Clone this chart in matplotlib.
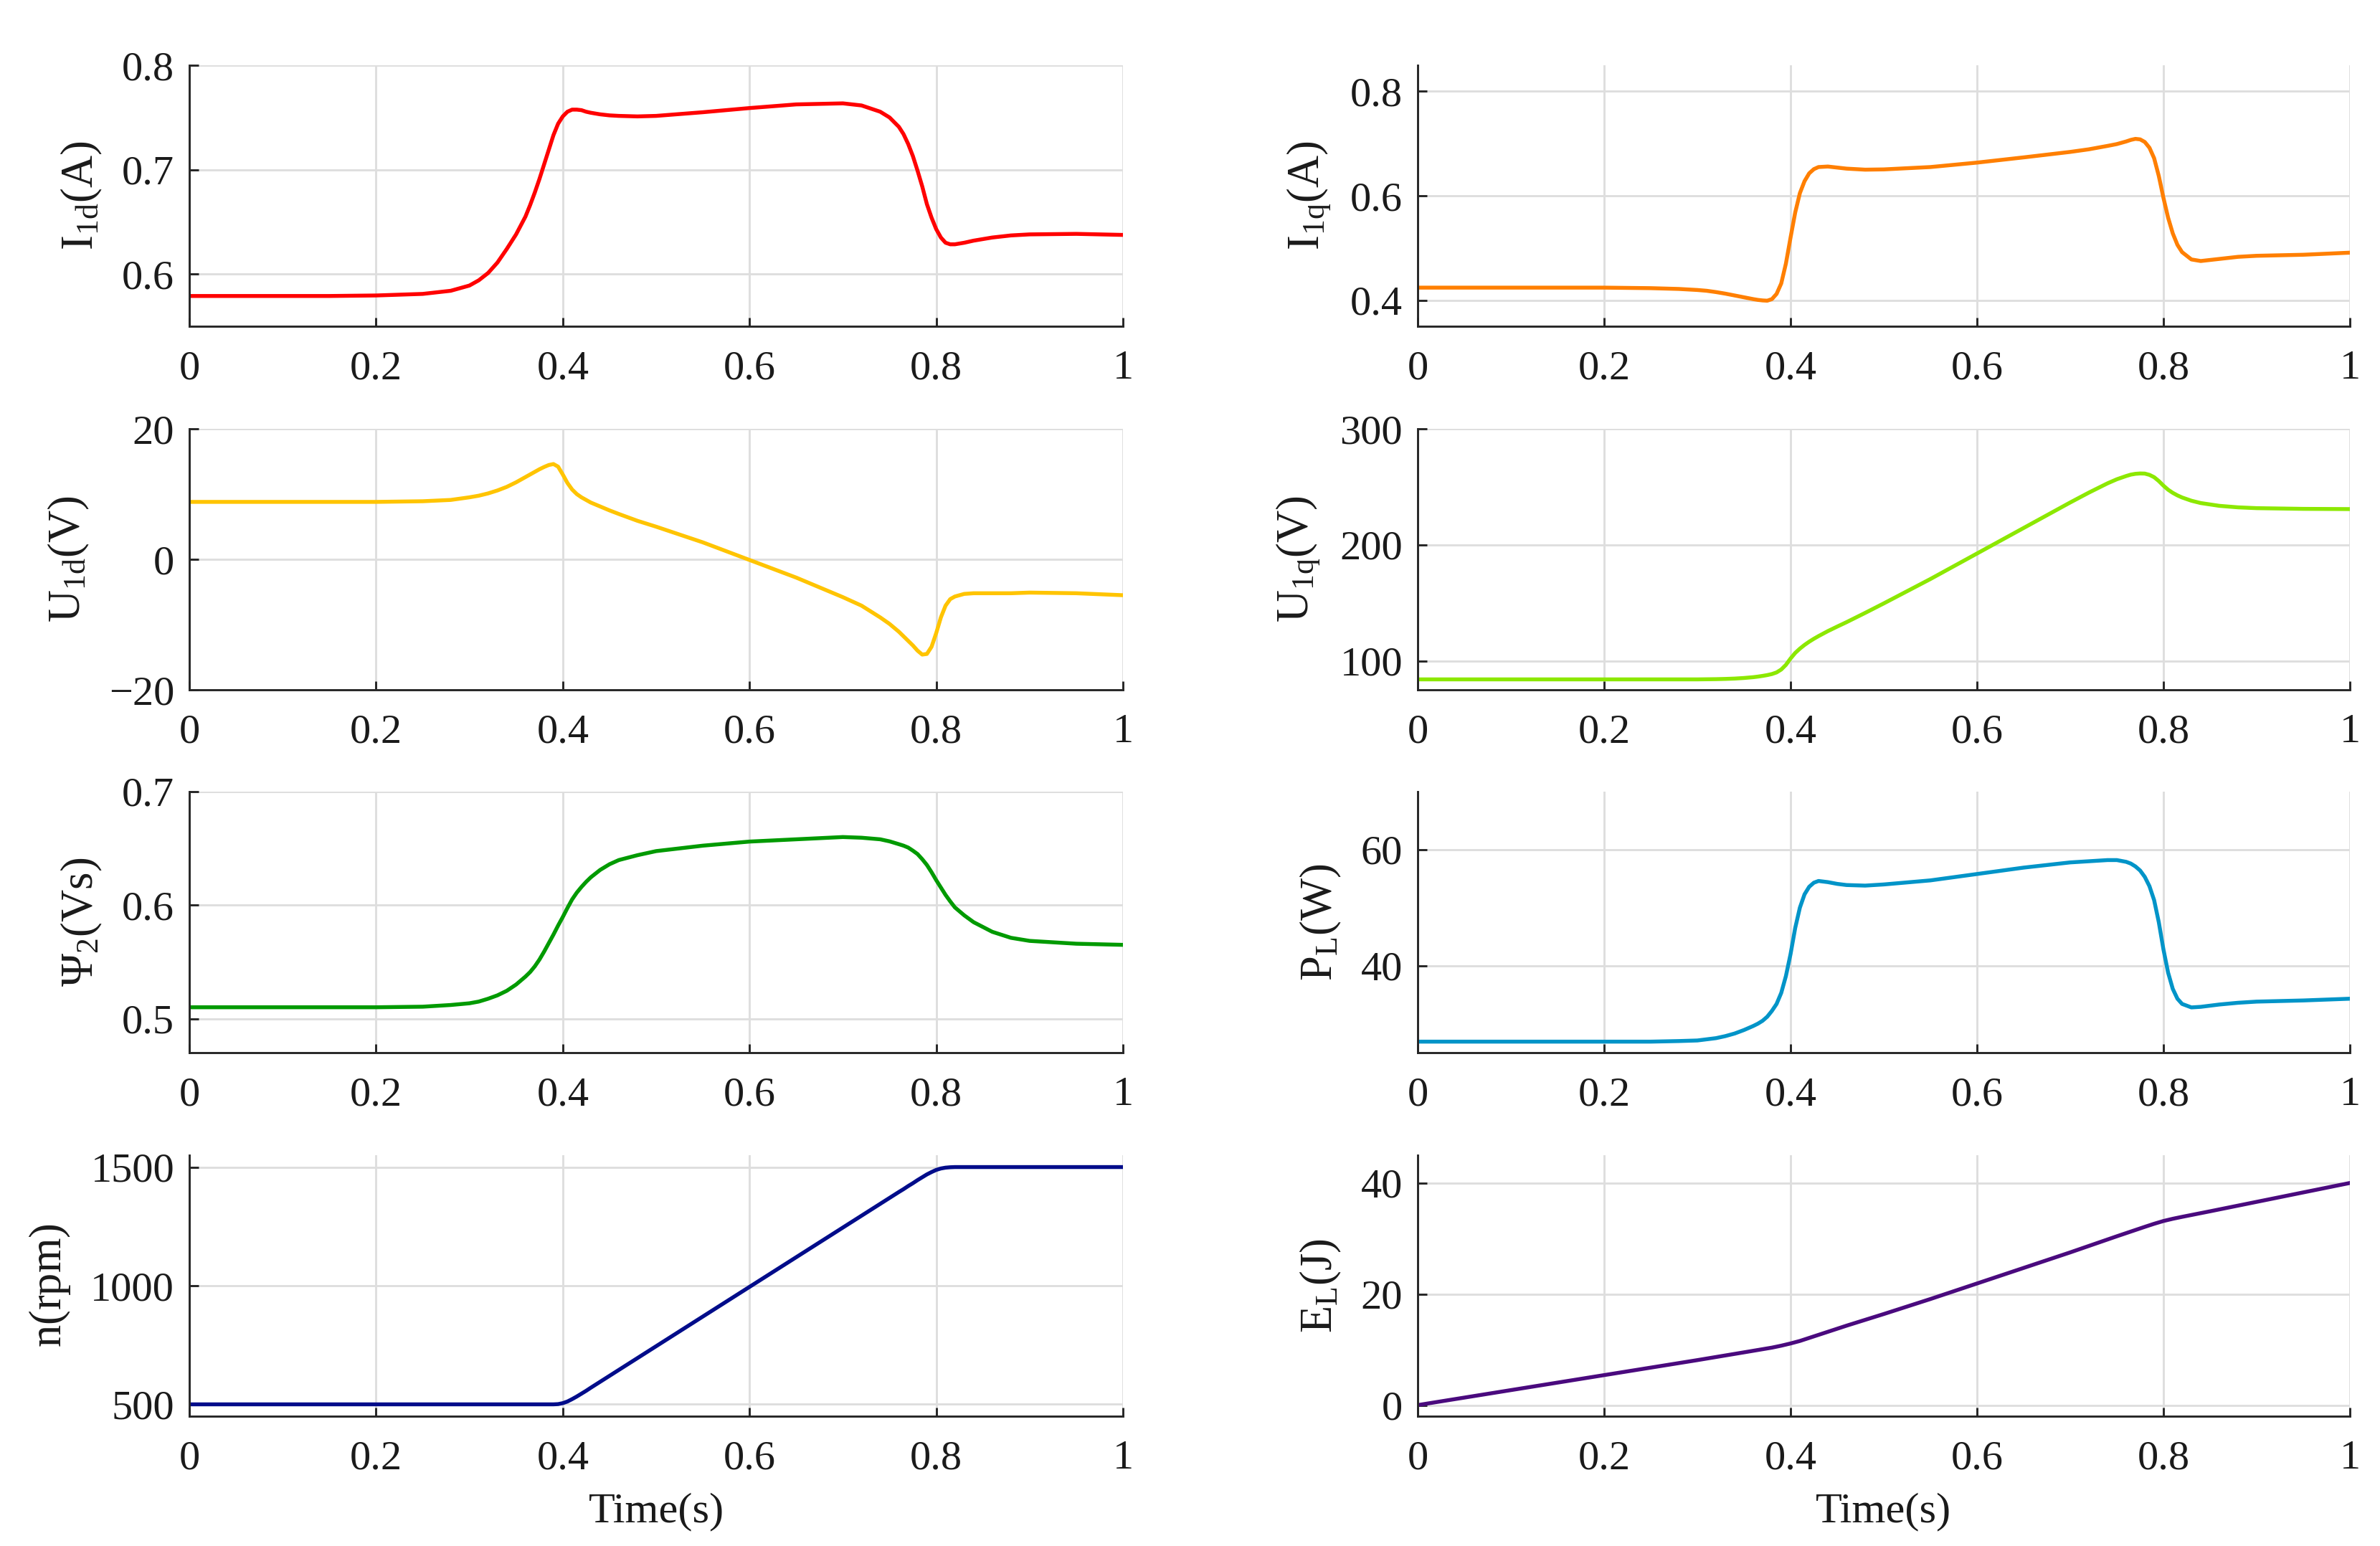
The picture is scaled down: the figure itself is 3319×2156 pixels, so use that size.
import matplotlib
matplotlib.use("Agg")
import matplotlib.pyplot as plt
from matplotlib.ticker import FuncFormatter

plt.rcParams['font.family'] = ['Liberation Serif', 'DejaVu Serif']
plt.rcParams['mathtext.fontset'] = 'custom'
plt.rcParams['mathtext.rm'] = 'Liberation Serif'
plt.rcParams['mathtext.it'] = 'Liberation Serif:italic'

# ---------------- data ----------------
t = [0.0, 0.05, 0.1, 0.15, 0.2,
     0.25, 0.28, 0.3,
     0.31, 0.32, 0.33, 0.34, 0.35, 0.36,
     0.365, 0.37, 0.375, 0.38, 0.385, 0.39, 0.395, 0.4,
     0.405, 0.41, 0.415, 0.42, 0.425, 0.43,
     0.44, 0.45, 0.46, 0.48, 0.5,
     0.55, 0.6, 0.65, 0.7,
     0.72, 0.74, 0.75, 0.76,
     0.765, 0.77, 0.775, 0.78, 0.785, 0.79, 0.795, 0.8,
     0.805, 0.81, 0.815, 0.82,
     0.83, 0.84, 0.86, 0.88, 0.9, 0.95, 1.0]

i1d = [0.579, 0.579, 0.579, 0.579, 0.5795,
       0.581, 0.584, 0.589,
       0.594, 0.601, 0.611, 0.624, 0.638, 0.655,
       0.666, 0.678, 0.691, 0.705, 0.719, 0.733, 0.744, 0.751,
       0.7555, 0.7575, 0.7575, 0.757, 0.7555, 0.7545,
       0.753, 0.752, 0.7515, 0.751, 0.7515,
       0.755, 0.759, 0.7625, 0.7635,
       0.7615, 0.7555, 0.750, 0.741,
       0.734, 0.7245, 0.713, 0.699, 0.684, 0.667, 0.654, 0.643,
       0.635, 0.630, 0.6285, 0.6285,
       0.630, 0.632, 0.635, 0.637, 0.638, 0.6385, 0.6375]

i1q = [0.424, 0.424, 0.424, 0.424, 0.424,
       0.423, 0.4215, 0.4195,
       0.418, 0.4155, 0.4125, 0.409, 0.4055, 0.402,
       0.4005, 0.3995, 0.399, 0.402, 0.412, 0.432, 0.470, 0.520,
       0.568, 0.605, 0.628, 0.643, 0.651, 0.655,
       0.656, 0.654, 0.652, 0.650, 0.6505,
       0.655, 0.6635, 0.6735, 0.684,
       0.689, 0.6955, 0.699, 0.704,
       0.707, 0.709, 0.708, 0.703, 0.692, 0.672, 0.638, 0.596,
       0.558, 0.528, 0.506, 0.492,
       0.478, 0.475, 0.479, 0.483, 0.485, 0.487, 0.491]

u1d = [8.8, 8.8, 8.8, 8.8, 8.8,
       8.9, 9.1, 9.5,
       9.75, 10.1, 10.55, 11.1, 11.8, 12.6,
       13.0, 13.4, 13.8, 14.15, 14.45, 14.6, 14.2, 13.0,
       11.7, 10.7, 10.0, 9.5, 9.1, 8.7,
       8.1, 7.5, 6.95, 5.9, 5.0,
       2.6, -0.1, -2.8, -5.8,
       -7.1, -8.9, -9.9, -11.1,
       -11.8, -12.5, -13.2, -14.0, -14.6, -14.5, -13.4, -11.3,
       -8.9, -7.1, -6.1, -5.7,
       -5.3, -5.2, -5.2, -5.2, -5.1, -5.2, -5.5]

u1q = [84.0, 84.0, 84.0, 84.0, 84.0,
       84.0, 84.0, 84.0,
       84.1, 84.2, 84.4, 84.7, 85.2, 85.9,
       86.4, 87.0, 87.7, 88.6, 90.0, 92.5, 96.5, 102.0,
       106.8, 110.5, 113.7, 116.5, 119.0, 121.3,
       125.6, 129.5, 133.3, 141.3, 149.5,
       170.5, 192.5, 214.5, 236.5,
       245.0, 253.0, 256.5, 259.3,
       260.5, 261.2, 261.5, 261.4, 260.3, 258.3, 255.0, 251.0,
       247.5, 244.8, 242.6, 240.8,
       238.0, 236.0, 233.6, 232.3, 231.6, 231.0, 230.8]

psi2 = [0.510, 0.510, 0.510, 0.510, 0.510,
        0.5105, 0.512, 0.5135,
        0.515, 0.5175, 0.5205, 0.5245, 0.530, 0.537,
        0.541, 0.546, 0.552, 0.559, 0.5665, 0.574, 0.582, 0.5895,
        0.5975, 0.605, 0.611, 0.616, 0.6205, 0.6245,
        0.631, 0.636, 0.6397, 0.644, 0.6476,
        0.6524, 0.656, 0.658, 0.660,
        0.6594, 0.658, 0.6562, 0.6537,
        0.6524, 0.6507, 0.648, 0.645, 0.6405, 0.6354, 0.629, 0.622,
        0.6155, 0.609, 0.6033, 0.598,
        0.591, 0.585, 0.5765, 0.5712, 0.5685, 0.566, 0.565]

pl = [26.9, 26.9, 26.9, 26.9, 26.9,
      26.9, 27.0, 27.1,
      27.3, 27.5, 27.85, 28.3, 28.9, 29.6,
      30.0, 30.5, 31.2, 32.2, 33.4, 35.3, 38.2, 42.0,
      46.5, 50.0, 52.3, 53.6, 54.3, 54.6,
      54.4, 54.1, 53.9, 53.8, 54.0,
      54.7, 55.8, 56.9, 57.8,
      58.0, 58.2, 58.2, 57.9,
      57.6, 57.1, 56.4, 55.3, 53.7, 51.3, 47.5, 42.8,
      38.8, 36.0, 34.3, 33.4,
      32.8, 32.9, 33.3, 33.6, 33.8, 34.0, 34.3]

speed = [500, 500, 500, 500, 500,
         500, 500, 500,
         500, 500, 500, 500, 500, 500,
         500, 500, 500, 500, 500, 500, 501, 505,
         512, 522, 533, 545, 557, 570,
         595, 620, 645, 695, 745,
         870, 995, 1120, 1245,
         1295, 1345, 1370, 1395,
         1407, 1420, 1432, 1445, 1457, 1469, 1479, 1488,
         1494, 1497.5, 1499.2, 1500,
         1500, 1500, 1500, 1500, 1500, 1500, 1500]

t_e = [0.0, 0.05, 0.1, 0.15, 0.2, 0.25, 0.3, 0.35, 0.38, 0.39, 0.4, 0.41, 0.42, 0.44,
       0.46, 0.5, 0.55, 0.6, 0.65, 0.7, 0.75, 0.78, 0.79, 0.8, 0.81, 0.82, 0.85, 0.9,
       0.95, 1.0]
el = [0.0, 1.35, 2.7, 4.05, 5.4, 6.75, 8.1, 9.5, 10.35, 10.7, 11.1, 11.55, 12.1, 13.2,
      14.3, 16.4, 19.1, 21.9, 24.7, 27.5, 30.4, 32.1, 32.65, 33.15, 33.55, 33.9, 34.9, 36.6,
      38.3, 40.0]

x_ticks = [0, 0.2, 0.4, 0.6, 0.8, 1.0]

panels = [
    # (row, col, x, y, color, ylabel, ylim, yticks)
    (0, 0, t, i1d, '#FF0000', r'$\mathrm{I_{1d}(A)}$', (0.55, 0.8), [0.6, 0.7, 0.8]),
    (0, 1, t, i1q, '#FF7F00', r'$\mathrm{I_{1q}(A)}$', (0.35, 0.85), [0.4, 0.6, 0.8]),
    (1, 0, t, u1d, '#FFC400', r'$\mathrm{U_{1d}(V)}$', (-20, 20), [-20, 0, 20]),
    (1, 1, t, u1q, '#8CE800', r'$\mathrm{U_{1q}(V)}$', (75, 300), [100, 200, 300]),
    (2, 0, t, psi2, '#009A00', r'$\mathit{\Psi}_{\mathrm{2}}\mathrm{(Vs)}$', (0.47, 0.7), [0.5, 0.6, 0.7]),
    (2, 1, t, pl, '#0094C8', r'$\mathrm{P_{L}(W)}$', (25, 70), [40, 60]),
    (3, 0, t, speed, '#000C8A', r'$\mathrm{n(rpm)}$', (450, 1550), [500, 1000, 1500]),
    (3, 1, t_e, el, '#4A0A7E', r'$\mathrm{E_{L}(J)}$', (-2, 45), [0, 20, 40]),
]

fmt = FuncFormatter(lambda v, p: ('%g' % v).replace('-', '\u2212'))

W, H = 3319, 2156
fig = plt.figure(figsize=(W / 300, H / 300), dpi=300)

col_x = [264 / W, 1977 / W]
col_w = [1302 / W, 1300 / W]
row_top = [91, 598, 1104, 1611]
row_h = 364

for r, c, xs, ys, color, ylab, ylim, yt in panels:
    ax = fig.add_axes([col_x[c], 1 - (row_top[r] + row_h) / H, col_w[c], row_h / H])
    ax.plot(xs, ys, color=color, lw=1.3, solid_capstyle='round', solid_joinstyle='round')
    ax.set_xlim(0, 1)
    ax.set_ylim(*ylim)
    ax.set_xticks(x_ticks)
    ax.set_yticks(yt)
    ax.xaxis.set_major_formatter(fmt)
    ax.yaxis.set_major_formatter(fmt)
    ax.grid(True, color='#dedede', lw=0.7)
    ax.set_axisbelow(True)
    for s in ['top', 'right']:
        ax.spines[s].set_visible(False)
    for s in ['left', 'bottom']:
        ax.spines[s].set_color('#262626')
        ax.spines[s].set_linewidth(0.7)
    ax.tick_params(axis='both', direction='in', length=3.0, width=0.7,
                   colors='#262626', labelsize=14, labelcolor='#1a1a1a')
    ax.tick_params(axis='x', pad=8)
    ax.tick_params(axis='y', pad=5)
    ax.set_ylabel(ylab, fontsize=15, color='#1a1a1a', labelpad=6)
    if r == 3:
        ax.set_xlabel('Time(s)', fontsize=14.5, color='#1a1a1a', labelpad=5)

fig.savefig('out.png', dpi=300)
